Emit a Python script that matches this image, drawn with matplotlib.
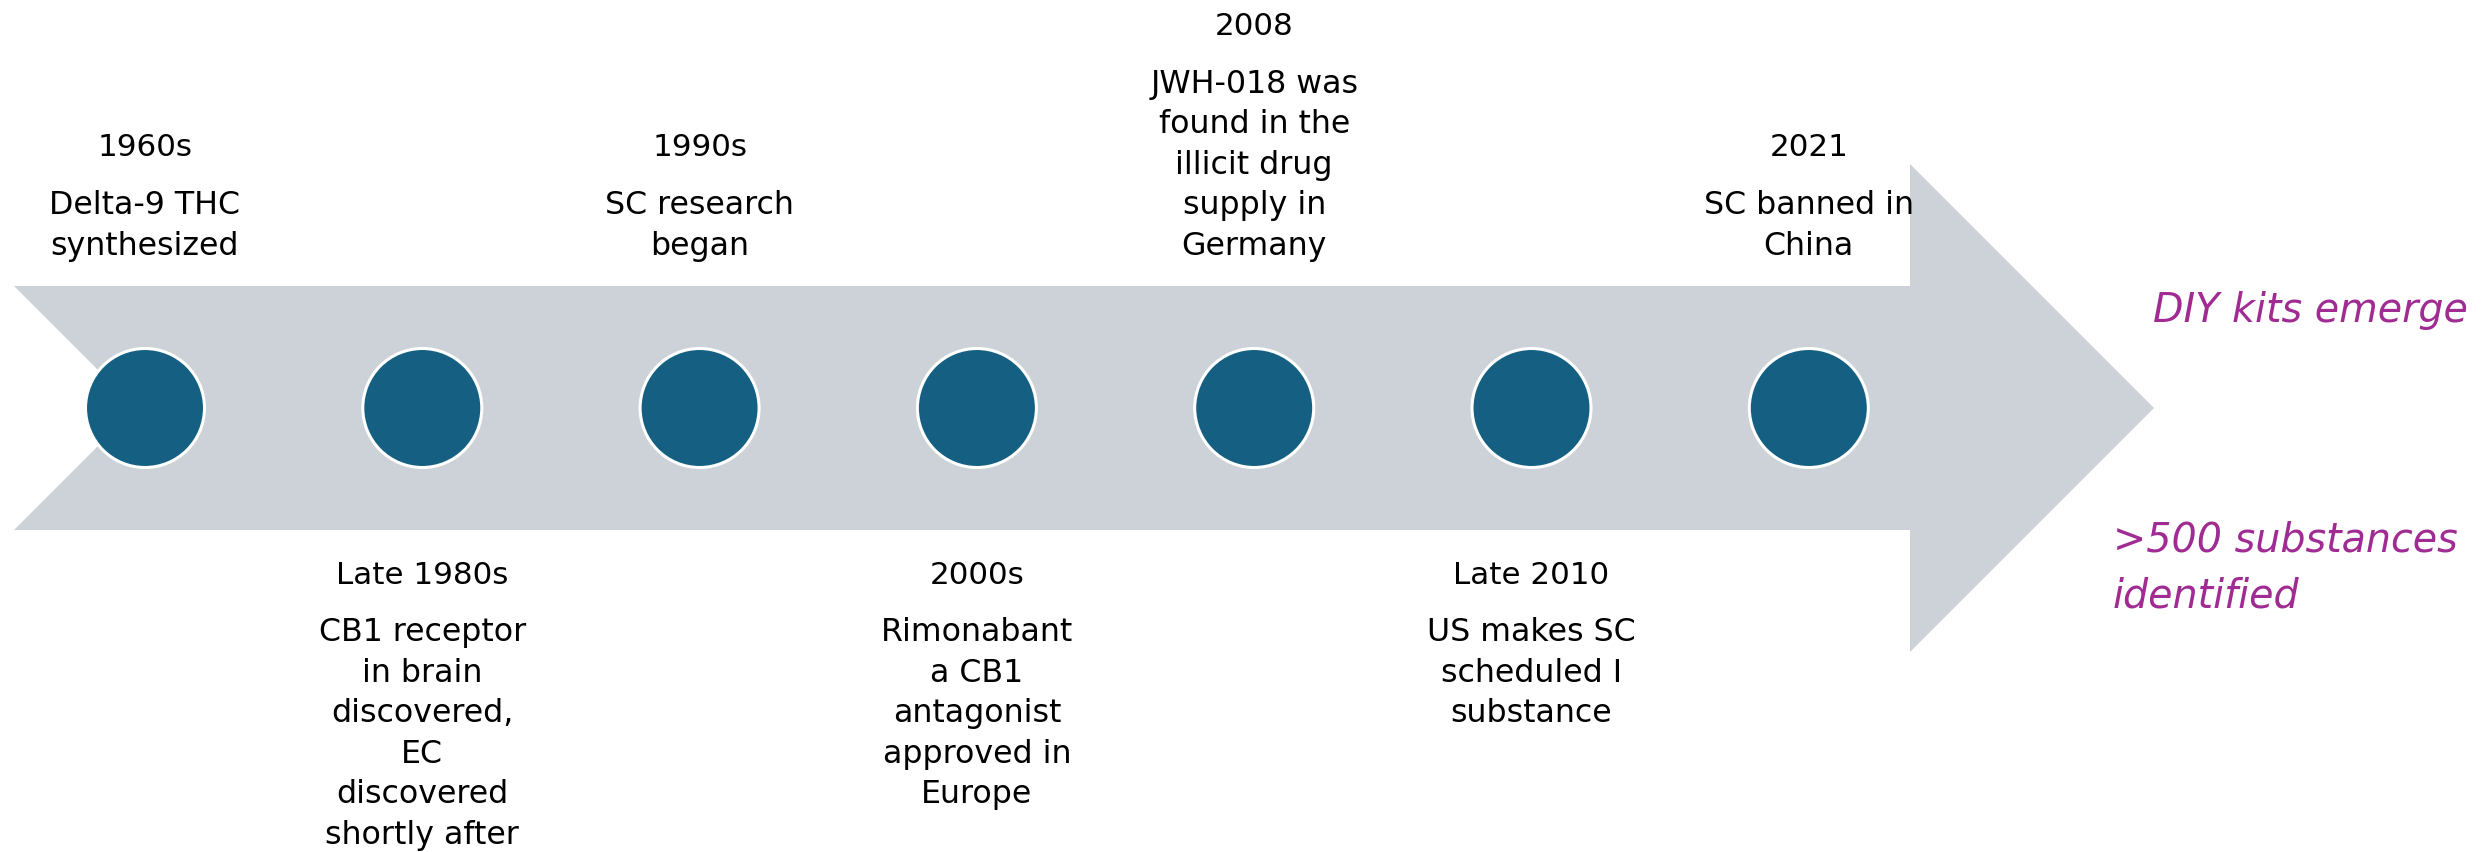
import matplotlib
matplotlib.use("Agg")
import matplotlib.pyplot as plt
from matplotlib.patches import Polygon, Circle

# ---- data ----
years = ["1960s", "Late 1980s", "1990s", "2000s", "2008", "Late 2010", "2021"]
descriptions = [
    "Delta-9 THC\nsynthesized",
    "CB1 receptor\nin brain\ndiscovered,\nEC\ndiscovered\nshortly after",
    "SC research\nbegan",
    "Rimonabant\na CB1\nantagonist\napproved in\nEurope",
    "JWH-018 was\nfound in the\nillicit drug\nsupply in\nGermany",
    "US makes SC\nscheduled I\nsubstance",
    "SC banned in\nChina",
]
sides = ["top", "bottom", "top", "bottom", "top", "bottom", "top"]
note_top = "DIY kits emerge"
note_bottom = ">500 substances\nidentified"

# ---- style ----
ARROW = "#CDD2D8"
DOT = "#156082"
PURPLE = "#A02B93"
FONT = "DejaVu Sans"

W, H = 2486, 852
fig = plt.figure(figsize=(W / 100, H / 100), dpi=100)
ax = fig.add_axes([0, 0, 1, 1])
ax.set_xlim(0, W)
ax.set_ylim(H, 0)
ax.axis("off")

# arrow shape (notched left end, pointed head)
x0, x1, tip = 14, 1910, 2154
top, bot, mid = 286, 530, 408
head_top, head_bot = 164, 652
notch = x0 + (mid - top)
arrow = Polygon([(x0, top), (x1, top), (x1, head_top), (tip, mid),
                 (x1, head_bot), (x1, bot), (x0, bot), (notch, mid)],
                closed=True, facecolor=ARROW, edgecolor="none")
ax.add_patch(arrow)

first_x, step = 145, 277.3
pitch = 40.6
for i, (yr, desc, side) in enumerate(zip(years, descriptions, sides)):
    cx = first_x + i * step
    ax.add_patch(Circle((cx, mid), 59.5, facecolor=DOT, edgecolor="white",
                        linewidth=2.2, zorder=3))
    lines = desc.split("\n")
    if side == "top":
        last_base = 255
        bases = [last_base - (len(lines) - 1 - k) * pitch for k in range(len(lines))]
        yr_base = bases[0] - 58
    else:
        yr_base = 584
        bases = [yr_base + 57 + k * pitch for k in range(len(lines))]
    ax.text(cx, yr_base, yr, ha="center", va="baseline", fontsize=22.3,
            family=FONT, color="black")
    for b, ln in zip(bases, lines):
        ax.text(cx, b, ln, ha="center", va="baseline", fontsize=22.8,
                family=FONT, color="black")

ax.text(2310, 322, note_top, ha="center", va="baseline", fontsize=28.5,
        family=FONT, style="italic", color=PURPLE)
nb = note_bottom.split("\n")
for k, ln in enumerate(nb):
    ax.text(2113, 552 + k * 56, ln, ha="left", va="baseline", fontsize=28.5,
            family=FONT, style="italic", color=PURPLE)

fig.savefig("out.png", dpi=100, facecolor="white")
